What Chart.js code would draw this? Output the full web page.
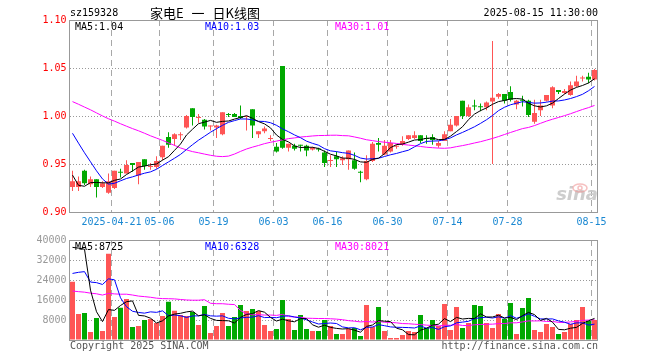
<!DOCTYPE html>
<html><head><meta charset="utf-8">
<script src="https://cdn.jsdelivr.net/npm/chart.js@4.4.1/dist/chart.umd.min.js"></script>
<style>
html,body{margin:0;padding:0;background:#fff;}
#wrap{position:relative;width:660px;height:360px;overflow:hidden;background:#fff;}
canvas{position:absolute;left:0;top:0;}
.t{position:absolute;white-space:nowrap;font-family:"DejaVu Sans Mono",monospace;font-size:10px;line-height:12px;}
.cjk{position:absolute;white-space:pre;font-family:"Noto Sans CJK SC",sans-serif;font-size:13px;line-height:16px;color:#000;word-spacing:5px;}
</style></head><body>
<div id="wrap">
<canvas id="kc" width="660" height="360"></canvas>
<canvas id="vc" width="660" height="360"></canvas>
<div class="t" style="left:70px;top:7px;color:#000;">sz159328</div>
<div class="cjk" style="left:150px;top:5px;">家电E 一 日K线图</div>
<div class="t" style="right:62px;top:7px;color:#000;">2025-08-15 11:30:00</div>
<div class="t" id="pm5" style="left:75px;top:21px;color:#000;"></div>
<div class="t" id="pm10" style="left:205px;top:21px;color:#00f;"></div>
<div class="t" id="pm30" style="left:335px;top:21px;color:#f0f;"></div>
<div class="t" id="vm5" style="left:75px;top:241px;color:#000;"></div>
<div class="t" id="vm10" style="left:205px;top:241px;color:#00f;"></div>
<div class="t" id="vm30" style="left:335px;top:241px;color:#f0f;"></div>
<div class="t" style="left:70px;top:340px;color:#555;">Copyright 2025 SINA.COM</div>
<div class="t" style="right:62px;top:340px;color:#555;">http://finance.sina.com.cn</div>
</div>
<script>
// ---------- data ----------
const dates = [
'2025-04-10','2025-04-11','2025-04-14','2025-04-15','2025-04-16','2025-04-17','2025-04-18','2025-04-21','2025-04-22','2025-04-23','2025-04-24','2025-04-25','2025-04-28','2025-04-29','2025-04-30',
'2025-05-06','2025-05-07','2025-05-08','2025-05-09','2025-05-12','2025-05-13','2025-05-14','2025-05-15','2025-05-16','2025-05-19','2025-05-20','2025-05-21','2025-05-22','2025-05-23','2025-05-26','2025-05-27','2025-05-28','2025-05-29','2025-05-30',
'2025-06-03','2025-06-04','2025-06-05','2025-06-06','2025-06-09','2025-06-10','2025-06-11','2025-06-12','2025-06-13','2025-06-16','2025-06-17','2025-06-18','2025-06-19','2025-06-20','2025-06-23','2025-06-24','2025-06-25','2025-06-26','2025-06-27','2025-06-30',
'2025-07-01','2025-07-02','2025-07-03','2025-07-04','2025-07-07','2025-07-08','2025-07-09','2025-07-10','2025-07-11','2025-07-14','2025-07-15','2025-07-16','2025-07-17','2025-07-18','2025-07-21','2025-07-22','2025-07-23','2025-07-24','2025-07-25','2025-07-28','2025-07-29','2025-07-30','2025-07-31',
'2025-08-01','2025-08-04','2025-08-05','2025-08-06','2025-08-07','2025-08-08','2025-08-11','2025-08-12','2025-08-13','2025-08-14','2025-08-15'];

const opens = [0.926,0.926,0.943,0.929,0.934,0.926,0.920,0.925,0.942,0.940,0.951,0.938,0.955,0.947,0.947,
0.957,0.978,0.976,0.980,0.988,1.008,0.998,0.996,0.989,0.988,0.981,1.002,1.002,1.000,0.999,1.007,0.981,0.984,0.976,
0.968,1.052,0.967,0.969,0.970,0.969,0.965,0.966,0.962,0.953,0.958,0.954,0.955,0.954,0.942,0.934,0.953,0.972,0.960,0.963,
0.968,0.970,0.976,0.977,0.980,0.977,0.978,0.969,0.974,0.984,0.990,1.016,1.000,1.011,1.010,1.009,1.015,1.020,1.023,1.025,1.012,1.017,1.016,
0.994,1.006,1.016,1.011,1.027,1.024,1.022,1.031,1.039,1.041,1.038];
const highs = [0.943,0.937,0.944,0.937,0.934,0.932,0.940,0.943,0.945,0.954,0.951,0.952,0.955,0.951,0.958,
0.969,0.983,0.982,0.983,1.001,1.008,1.002,0.997,0.990,0.991,1.004,1.003,1.003,1.011,1.000,1.007,0.984,0.989,0.980,
0.972,1.052,0.971,0.971,0.970,0.970,0.968,0.967,0.964,0.959,0.963,0.958,0.964,0.962,0.943,0.959,0.973,0.977,0.975,0.975,
0.970,0.979,0.980,0.984,0.980,0.980,0.981,0.974,0.984,0.997,1.000,1.016,1.012,1.017,1.013,1.015,1.078,1.024,1.023,1.031,1.017,1.021,1.017,
1.017,1.017,1.022,1.031,1.027,1.028,1.036,1.042,1.042,1.045,1.049];
const lows = [0.922,0.922,0.928,0.926,0.915,0.925,0.919,0.924,0.936,0.940,0.942,0.929,0.944,0.944,0.945,
0.954,0.967,0.969,0.975,0.987,0.990,0.993,0.986,0.985,0.977,0.980,0.999,0.999,0.997,0.985,0.977,0.977,0.982,0.974,
0.962,0.966,0.963,0.964,0.963,0.958,0.964,0.963,0.947,0.947,0.947,0.949,0.944,0.944,0.931,0.933,0.952,0.963,0.959,0.962,
0.966,0.969,0.975,0.976,0.972,0.971,0.970,0.967,0.974,0.984,0.989,0.997,0.999,1.006,1.005,1.006,0.950,1.018,1.013,1.015,1.007,1.010,0.999,
0.992,1.000,1.015,1.008,1.023,1.023,1.021,1.030,1.036,1.034,1.037];
const closes = [0.932,0.932,0.930,0.934,0.926,0.930,0.932,0.943,0.941,0.949,0.949,0.952,0.948,0.948,0.953,
0.969,0.970,0.981,0.981,1.000,0.999,0.999,0.989,0.990,0.990,1.004,1.001,0.999,0.998,1.000,0.990,0.984,0.987,0.977,
0.963,0.967,0.971,0.966,0.969,0.964,0.967,0.965,0.951,0.954,0.955,0.956,0.964,0.945,0.941,0.953,0.971,0.970,0.969,0.972,
0.969,0.974,0.980,0.980,0.974,0.976,0.975,0.972,0.981,0.991,1.000,1.000,1.009,1.010,1.009,1.014,1.019,1.023,1.016,1.017,1.016,1.016,1.001,
1.003,1.011,1.022,1.030,1.025,1.026,1.032,1.036,1.040,1.038,1.048];
const volumes = [23300,10400,10800,3200,8800,3600,34500,9200,12900,16400,5200,5600,8000,8400,6800,
9600,15300,11700,10000,9600,11200,6000,13600,2800,5600,10800,5600,9200,14000,11600,12400,11600,6000,3600,
4400,16000,8400,4000,10000,4400,3600,3600,8000,5600,2400,2400,4400,4800,1600,14000,5200,13200,3600,800,
800,2000,3600,3200,10000,4800,8000,5600,14400,4000,13200,4800,6800,14000,13600,6800,4800,10400,8400,14800,2400,12800,16800,
4000,3200,6400,5200,2400,3200,6400,8000,13200,7600,8000];

// closes and volumes of the 29 sessions before the first visible one (for the moving averages)
const priorCloses = [1.015,1.018,1.020,1.022,1.025,1.020,1.018,1.022,1.026,1.024,1.020,1.025,1.028,1.024,
1.040,1.050,1.058,1.062,1.060,1.053,1.035,1.030,1.028,1.020,1.015,0.985,0.935,0.915,0.925];
const priorVolumes = [18000,17000,15000,16500,19000,14000,15500,17000,16000,15000,18500,14500,16000,17500,15000,16500,14000,17000,15500,14000,
6000,8000,45000,11000,11000,12000,13000,85000,52000];

const priceTicks = [0.90,0.95,1.00,1.05,1.10];
const volumeTicks = [0,8000,16000,24000,32000,40000];
const tickDates = ['2025-04-21','2025-05-06','2025-05-19','2025-06-03','2025-06-16','2025-06-30','2025-07-14','2025-07-28','2025-08-15'];
const tickLabels = ['2025-04-21','05-06','05-19','06-03','06-16','06-30','07-14','07-28','08-15'];
const priceMaLabels = ['MA5:1.04','MA10:1.03','MA30:1.01'];
const volumeMaLabels = ['MA5:8725','MA10:6328','MA30:8021'];

// ---------- helpers ----------
const MONO = 'DejaVu Sans Mono';
const RED = '#ff5555', GREEN = '#00a800';
function movingAvg(prior, vals, n){
  const all = prior.concat(vals), off = prior.length;
  return vals.map((_, i) => { let s = 0; for (let k = 0; k < n; k++) s += all[off + i - k]; return s / n; });
}
const candleColors = opens.map((o, i) => closes[i] >= o ? RED : GREEN);
const tickIdx = tickDates.map(d => dates.indexOf(d));

['pm5','pm10','pm30'].forEach((id, k) => document.getElementById(id).textContent = priceMaLabels[k]);
['vm5','vm10','vm30'].forEach((id, k) => document.getElementById(id).textContent = volumeMaLabels[k]);

const frame = {
  id: 'frame',
  afterDraw(c, args, opts) {
    const a = c.chartArea, x = c.ctx;
    x.save();
    x.strokeStyle = '#999'; x.lineWidth = 1;
    const L = Math.floor(a.left) + 0.5, T = Math.floor(a.top) + 0.5, R = Math.floor(a.right) + 0.5, B = Math.floor(a.bottom) + 0.5;
    x.strokeRect(L, T, R - L, B - T);
    if (opts && opts.logo) {
      x.fillStyle = 'rgba(200,200,200,0.9)';
      x.font = 'italic bold 18px "DejaVu Sans"';
      x.textAlign = 'right'; x.textBaseline = 'alphabetic';
      x.fillText('sina', 598, 200);
      x.strokeStyle = 'rgba(240,150,150,0.6)'; x.lineWidth = 1.5;
      x.beginPath(); x.ellipse(580, 188, 7, 4, 0, 0, Math.PI * 2); x.stroke();
      x.beginPath(); x.arc(580, 188, 2, 0, Math.PI * 2); x.stroke();
    }
    x.restore();
  }
};

function xScale(showLabels) {
  return {
    offset: true,
    grid: { offset: true, drawTicks: false, lineWidth: 1,
      color: c => tickIdx.includes(c.index) ? '#a8a8a8' : 'rgba(0,0,0,0)' },
    border: { display: false, dash: [6, 4] },
    ticks: { display: showLabels, autoSkip: false, maxRotation: 0, minRotation: 0, padding: 4, labelOffset: -3,
      color: '#1a88d2', font: { family: MONO, size: 10 },
      callback: (v, i) => { const k = tickIdx.indexOf(i); return k >= 0 ? tickLabels[k] : ''; } },
    afterFit: s => { s.height = showLabels ? 20 : 0; }
  };
}

// ---------- price chart ----------
new Chart(document.getElementById('kc'), {
  type: 'bar',
  data: {
    labels: dates,
    datasets: [
      { type: 'line', data: movingAvg(priorCloses, closes, 5), borderColor: '#000', borderWidth: 1, pointRadius: 0, tension: 0, order: 0 },
      { type: 'line', data: movingAvg(priorCloses, closes, 10), borderColor: '#00f', borderWidth: 1, pointRadius: 0, tension: 0, order: 0 },
      { type: 'line', data: movingAvg(priorCloses, closes, 30), borderColor: '#f0f', borderWidth: 1, pointRadius: 0, tension: 0, order: 0 },
      { data: opens.map((o, i) => [o, closes[i]]), backgroundColor: candleColors, barThickness: 5, grouped: false, minBarLength: 1, inflateAmount: 0, borderWidth: 0, order: 1 },
      { data: lows.map((l, i) => [l, highs[i]]), backgroundColor: candleColors, barThickness: 1, grouped: false, inflateAmount: 0, borderWidth: 0, order: 2 }
    ]
  },
  options: {
    responsive: false, animation: false, devicePixelRatio: 1,
    layout: { padding: { left: 0, right: 62.5, top: 20, bottom: 128 } },
    plugins: { legend: { display: false }, tooltip: { enabled: false }, frame: { logo: true } },
    scales: {
      x: xScale(true),
      y: { min: 0.9, max: 1.1,
        afterBuildTicks: s => { s.ticks = priceTicks.map(v => ({ value: v })); },
        ticks: { color: '#f00', padding: 3, font: { family: MONO, size: 10 }, callback: v => Number(v).toFixed(2) },
        grid: { drawTicks: false, lineWidth: 1, color: c => (c.tick && c.tick.value > 0.91 && c.tick.value < 1.09) ? '#999' : 'rgba(0,0,0,0)' },
        border: { display: false, dash: [1, 2] },
        afterFit: s => { s.width = 69.5; } }
    }
  },
  plugins: [frame]
});

// ---------- volume chart ----------
new Chart(document.getElementById('vc'), {
  type: 'bar',
  data: {
    labels: dates,
    datasets: [
      { type: 'line', data: movingAvg(priorVolumes, volumes, 5), borderColor: '#000', borderWidth: 1, pointRadius: 0, tension: 0, order: 0 },
      { type: 'line', data: movingAvg(priorVolumes, volumes, 10), borderColor: '#00f', borderWidth: 1, pointRadius: 0, tension: 0, order: 0 },
      { type: 'line', data: movingAvg(priorVolumes, volumes, 30), borderColor: '#f0f', borderWidth: 1, pointRadius: 0, tension: 0, order: 0 },
      { data: volumes, backgroundColor: candleColors, barThickness: 5, grouped: false, inflateAmount: 0, borderWidth: 0, order: 1 }
    ]
  },
  options: {
    responsive: false, animation: false, devicePixelRatio: 1,
    layout: { padding: { left: 0, right: 62.5, top: 240, bottom: 20 } },
    plugins: { legend: { display: false }, tooltip: { enabled: false }, frame: { logo: false } },
    scales: {
      x: xScale(false),
      y: { min: 0, max: 40000,
        afterBuildTicks: s => { s.ticks = volumeTicks.map(v => ({ value: v })); },
        ticks: { color: '#999', padding: 3, font: { family: MONO, size: 10 }, callback: v => v === 0 ? '' : String(v) },
        grid: { drawTicks: false, lineWidth: 1, color: c => (c.tick && c.tick.value > 0 && c.tick.value < 40000) ? '#999' : 'rgba(0,0,0,0)' },
        border: { display: false, dash: [1, 2] },
        afterFit: s => { s.width = 69.5; } }
    }
  },
  plugins: [frame]
});
</script>
</body></html>
